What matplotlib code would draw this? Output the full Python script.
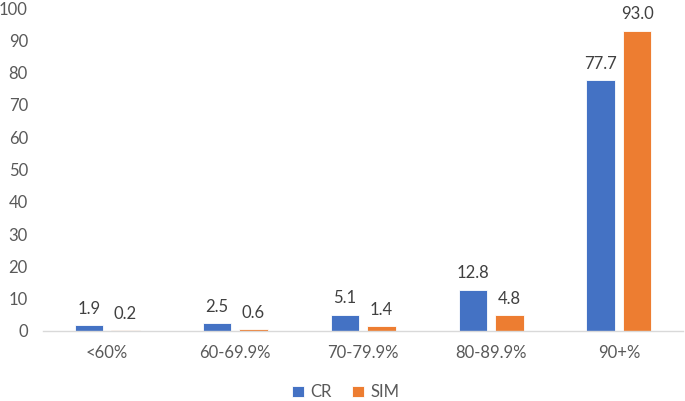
import matplotlib
matplotlib.use("Agg")
import matplotlib.pyplot as plt
import numpy as np

categories = ["<60%", "60-69.9%", "70-79.9%", "80-89.9%", "90+%"]
cr = [1.9, 2.5, 5.1, 12.8, 77.7]
sim = [0.2, 0.6, 1.4, 4.8, 93.0]
series_names = ["CR", "SIM"]
colors = ["#4472C4", "#ED7D31"]

plt.rcParams['font.family'] = ['Lato', 'DejaVu Sans']
fs = 12

fig = plt.figure(figsize=(6.85, 4.01), dpi=100)
ax = fig.add_axes([0.063, 0.1746, 0.934, 0.8054])

x = np.arange(len(categories))
w = 0.22
off = 0.144
for vals, name, c, d in [(cr, series_names[0], colors[0], -off), (sim, series_names[1], colors[1], off)]:
    bars = ax.bar(x + d, vals, w, color=c, label=name, edgecolor='white', linewidth=0.6)
    for b, v in zip(bars, vals):
        ax.annotate(f"{v:.1f}", (b.get_x() + b.get_width() / 2, v), xytext=(0, 6),
                    textcoords='offset points', ha='center', va='bottom',
                    fontsize=fs, color='#404040')

ax.set_xlim(-0.5, len(categories) - 0.5)
ax.set_ylim(0, 100)
ax.set_yticks(np.arange(0, 101, 10))
ax.set_xticks(x)
ax.set_xticklabels(categories)
ax.tick_params(axis='both', length=0, labelsize=fs, labelcolor='#595959')
ax.tick_params(axis='y', pad=11)
ax.tick_params(axis='x', pad=10)
for s in ['top', 'right', 'left']:
    ax.spines[s].set_visible(False)
ax.spines['bottom'].set_color('#D9D9D9')
ax.spines['bottom'].set_linewidth(1.0)

fig.legend(loc='center', bbox_to_anchor=(0.505, 0.022), ncol=2, frameon=False,
           handlelength=0.7, handleheight=0.7, handletextpad=0.4, columnspacing=1.2,
           fontsize=fs, labelcolor='#595959')

fig.savefig("out.png", dpi=100)
